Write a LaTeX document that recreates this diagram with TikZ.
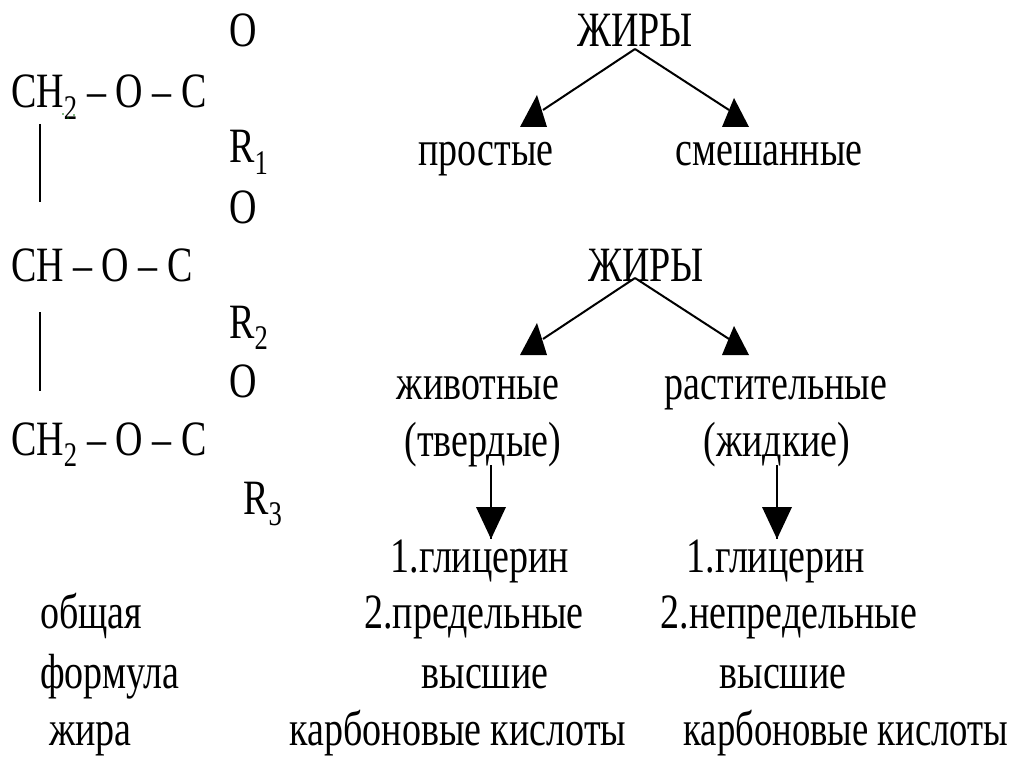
\documentclass[tikz,border=0pt]{standalone}
\usepackage{fontspec}
\setmainfont{Liberation Serif}
\newcommand{\stt}[1]{\scalebox{1}[1.3]{#1}}
\tikzset{
 lab/.style={inner sep=0pt,font=\fontsize{38}{38}\selectfont,text=black},
 arr/.style={draw=black,line width=2pt},
 tip/.style={fill=black,draw=none}
}
\begin{document}
\begin{tikzpicture}[x=1pt,y=-1pt]
\useasboundingbox (0,0) rectangle (1024,767);
\fill[white] (0,0) rectangle (1024,767);
\def\T#1#2#3#4{\node[lab,anchor=base west] (#1) at (#2,#3) {\stt{#4}};}
\def\C#1#2#3#4{\node[lab,anchor=base] (#1) at (#2,#3) {\stt{#4}};}
\T{o1}{229}{47}{O}
\T{ch1}{11}{108}{CH\textsubscript{2} -- O -- C}
\T{r1}{229}{163}{R\textsubscript{1}}
\T{o2}{229}{223}{O}
\T{ch2}{11}{281}{CH -- O -- C}
\T{r2}{229}{338}{R\textsubscript{2}}
\T{o3}{229}{397}{O}
\T{ch3}{11}{455}{CH\textsubscript{2} -- O -- C}
\T{r3}{243}{514}{R\textsubscript{3}}
\T{f1}{40}{628}{общая}
\T{f2}{40}{688}{формула}
\T{f3}{49}{745}{жира}
\coordinate (b1a) at (39.5,124); \coordinate (b1b) at (39.5,202);
\coordinate (b2a) at (39.5,312); \coordinate (b2b) at (39.5,391);
\draw[arr] (b1a)--(b1b); \draw[arr] (b2a)--(b2b);
\C{j1}{635}{47}{ЖИРЫ}
\C{p}{486}{166}{простые}
\C{s}{769}{166}{смешанные}
\C{j2}{646}{281}{ЖИРЫ}
\C{a}{478}{399}{животные}
\C{a2}{483}{456}{(твердые)}
\C{b}{776}{399}{растительные}
\C{b2}{777}{456}{(жидкие)}
\C{g1}{480}{572}{1.глицерин}
\C{g2}{474}{628}{2.предельные}
\C{g3}{485}{688}{высшие}
\C{g4}{458}{745}{карбоновые кислоты}
\C{h1}{776}{572}{1.глицерин}
\C{h2}{789}{628}{2.непредельные}
\C{h3}{783}{688}{высшие}
\node[lab,anchor=base] (h4) at (846,745) {\scalebox{.965}[1.3]{карбоновые кислоты}};
\coordinate (t1) at (635,49);
\coordinate (t2) at (635,278);
\coordinate (x1) at (543,110); \coordinate (y1) at (729,110);
\coordinate (x2) at (543,339); \coordinate (y2) at (729,339);
\draw[arr] (t1)--(x1); \draw[arr] (t1)--(y1);
\draw[arr] (t2)--(x2); \draw[arr] (t2)--(y2);
\fill[tip] (537,95)--(520,127)--(547,127)--cycle;
\fill[tip] (734,98)--(722,127)--(749,127)--cycle;
\fill[tip] (537,323)--(520,355)--(547,355)--cycle;
\fill[tip] (734,326)--(722,355)--(749,355)--cycle;
\coordinate (d1) at (491,465); \coordinate (d2) at (777,465);
\coordinate (e1) at (491,539); \coordinate (e2) at (777,539);
\draw[arr] (d1)--(e1); \draw[arr] (d2)--(e2);
\fill[tip] (e1)--++(-15,-32)--++(30,0)--cycle;
\fill[tip] (e2)--++(-15,-32)--++(30,0)--cycle;
\fill[green!45!black] (63,114) circle (0.8) (68,118) circle (0.8) (74,115) circle (0.8);
\end{tikzpicture}
\end{document}
